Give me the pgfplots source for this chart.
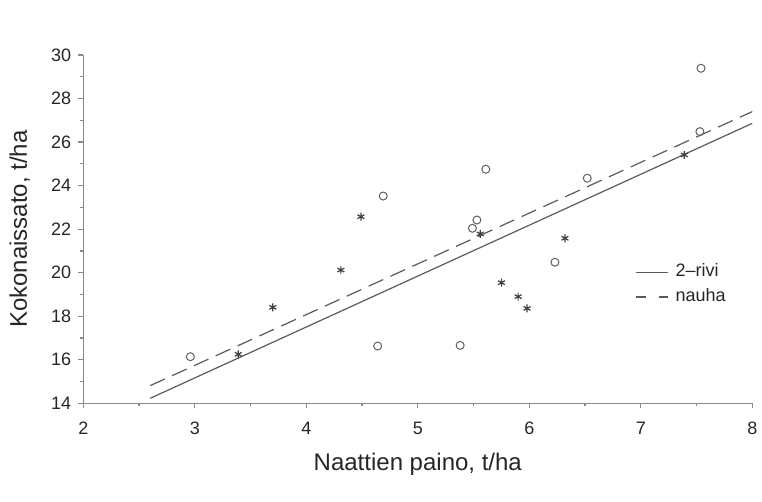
\documentclass[border=0pt]{standalone}
\usepackage{pgfplots}
\pgfplotsset{compat=1.18}
\usepackage{fontspec}
\setmainfont{Liberation Sans}
\definecolor{axgray}{HTML}{8A8A8A}
\definecolor{lngray}{HTML}{5A5A5A}
\definecolor{mkgray}{HTML}{606060}
\begin{document}
\begin{tikzpicture}
\useasboundingbox (-41.65pt,-49.35pt) rectangle (339.35pt,201.65pt);
\begin{axis}[
  scale only axis,
  width=334.5pt, height=174.15pt,
  xmin=2, xmax=8, ymin=14, ymax=30,
  axis x line=bottom, axis y line=left,
  axis line style={-, draw=axgray, line width=0.6pt},
  xtick={2,3,...,8}, ytick={14,16,...,30},
  minor x tick num=1, minor y tick num=1,
  tick align=outside,
  major tick length=2.5pt, minor tick length=1.5pt,
  tick style={draw=axgray, line width=0.6pt},
  /pgf/number format/assume math mode=true,
  ticklabel style={font=\fontsize{9}{10}\selectfont, text=black!85},
  every x tick label/.append style={yshift=-3.5pt},
  xlabel={Naattien paino, t/ha},
  ylabel={Kokonaissato, t/ha},
  label style={font=\fontsize{12}{14}\selectfont, text=black!85},
  xlabel style={at={(axis description cs:0.5,-0.1924)}, anchor=base},
  ylabel style={at={(axis description cs:-0.0842,0.5)}, anchor=base},
  legend style={draw=none, fill=none, at={(axis cs:6.948,19.48)}, anchor=west,
    inner sep=0pt, font=\fontsize{9}{10}\selectfont, row sep=4.3pt, column sep=3.5pt,
    nodes={inner sep=0pt, text=black!85}},
  legend cell align=left,
  legend image code/.code={\draw[#1] (0pt,-0.3pt) -- (16pt,-0.3pt);},
]
\addplot[forget plot, draw=lngray, line width=0.6pt] coordinates {(2.6,14.23) (8.0,26.86)};
\addplot[forget plot, draw=lngray, line width=0.6pt, dash pattern=on 8pt off 4pt] coordinates {(2.6,14.81) (8.0,27.40)};
\addplot[forget plot, only marks, mark=o, mark size=2pt, mark options={draw=mkgray, line width=0.5pt}] coordinates {
(2.96,16.14) (4.64,16.63) (5.38,16.66) (4.69,23.52) (5.61,24.75) (6.52,24.34)
(7.54,29.39) (7.53,26.48) (5.53,22.42) (5.49,22.04) (6.23,20.48)};
\addplot[forget plot, only marks, mark=asterisk, mark size=2pt, mark options={draw=black!75, line width=0.6pt}] coordinates {
(3.39,16.25) (3.70,18.41) (4.31,20.12) (4.49,22.57) (5.56,21.78) (6.32,21.58)
(5.75,19.54) (5.90,18.90) (5.98,18.36) (7.39,25.41)};
\addlegendimage{draw=lngray, line width=0.6pt}
\addlegendentry{2–rivi}
\addlegendimage{draw=lngray, line width=0.6pt, dash pattern=on 5pt off 6.5pt}
\addlegendentry{nauha}
\end{axis}
\end{tikzpicture}
\end{document}
